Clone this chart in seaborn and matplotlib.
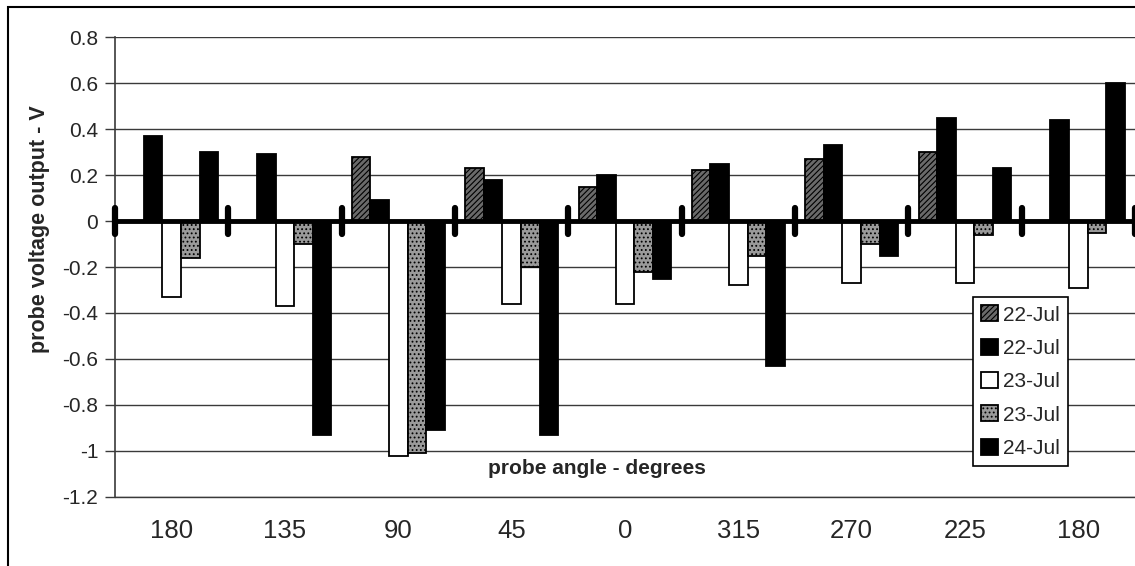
import numpy as np
import pandas as pd
import matplotlib
matplotlib.use("Agg")
import matplotlib.pyplot as plt
from matplotlib.patches import Patch, Rectangle
import seaborn as sns

# Probe angle categories (the sweep starts and ends at 180)
angles = ["180", "135", "90", "45", "0", "315", "270", "225", "180"]

# Probe output in volts for each run
jul22_a = [np.nan, np.nan, 0.28, 0.23, 0.15, 0.22, 0.27, 0.30, np.nan]
jul22_b = [0.37, 0.29, 0.09, 0.18, 0.20, 0.25, 0.33, 0.45, 0.44]
jul23_a = [-0.33, -0.37, -1.02, -0.36, -0.36, -0.28, -0.27, -0.27, -0.29]
jul23_b = [-0.16, -0.10, -1.01, -0.20, -0.22, -0.15, -0.10, -0.06, -0.05]
jul24 = [0.30, -0.93, -0.91, -0.93, -0.25, -0.63, -0.15, 0.23, 0.60]

series_labels = ["22-Jul", "22-Jul", "23-Jul", "23-Jul", "24-Jul"]
series_values = [jul22_a, jul22_b, jul23_a, jul23_b, jul24]
face_colors = ["#6a6a6a", "#000000", "#ffffff", "#9a9a9a", "#000000"]
hatches = ["//////", None, None, "....", None]

# long-form table; categories keyed by position because "180" repeats
rows = []
for s, vals in enumerate(series_values):
    for i, v in enumerate(vals):
        rows.append({"pos": i, "run": s, "volts": v})
df = pd.DataFrame(rows)

sns.set_theme(style="white")
plt.rcParams["font.family"] = ["Liberation Sans", "DejaVu Sans"]
plt.rcParams["hatch.color"] = "#2a2a2a"
plt.rcParams["hatch.linewidth"] = 0.8

fig = plt.figure(figsize=(11.35, 5.66), dpi=100)
W, H = 1135, 566
ax = fig.add_axes([115 / W, (H - 497) / H, 1020 / W, 460 / H])

sns.barplot(
    data=df, x="pos", y="volts", hue="run",
    order=list(range(len(angles))), hue_order=list(range(len(series_values))),
    palette=dict(enumerate(face_colors)), width=0.82, errorbar=None,
    edgecolor="black", linewidth=1.3, saturation=1, dodge=True,
    legend=False, ax=ax, zorder=3,
)
for cont, h in zip(ax.containers, hatches):
    for bar in cont:
        if h:
            bar.set_hatch(h)

ax.set_xlim(-0.5, len(angles) - 0.5)
ax.set_ylim(-1.2, 0.8)
yt = np.arange(-1.2, 0.81, 0.2)
ax.set_yticks(yt)
ax.set_yticklabels([f"{t:g}" if abs(t) > 1e-9 else "0" for t in yt])
ax.yaxis.grid(True, color="#3a3a3a", linewidth=1.0)
ax.set_axisbelow(True)

ax.set_xticks(range(len(angles)))
ax.set_xticklabels(angles)
ax.tick_params(axis="x", length=0, pad=16, labelsize=18.5)
ax.tick_params(axis="y", left=True, length=7, width=1, color="#3a3a3a", pad=5, labelsize=15)

for side in ["top", "right"]:
    ax.spines[side].set_visible(False)
ax.spines["left"].set_color("#3a3a3a")
ax.spines["left"].set_linewidth(1.2)
ax.spines["bottom"].set_color("#3a3a3a")
ax.spines["bottom"].set_linewidth(1.0)

# category axis at zero with boundary marks between groups
ax.axhline(0, color="black", linewidth=3.5, zorder=4)
bounds = np.arange(-0.5, len(angles), 1.0)
ax.vlines(bounds, -0.055, 0.055, color="black", linewidth=4.5,
          capstyle="round", zorder=5, clip_on=False)

ax.set_xlabel("")
ax.set_ylabel("")
ax.text(0.4725, 0.061, "probe angle - degrees", transform=ax.transAxes,
        ha="center", va="center", fontsize=15, fontweight="bold", zorder=6)
fig.text(40 / W, 1 - 229 / H, "probe voltage output - V", rotation=90,
         ha="center", va="center", fontsize=15.5, fontweight="bold")

handles = [Patch(facecolor=c, edgecolor="black", hatch=h, linewidth=1.3)
           for c, h in zip(face_colors, hatches)]
leg = ax.legend(handles, series_labels, loc="upper left",
                bbox_to_anchor=((973 - 115) / 1020, (497 - 297) / 460),
                fontsize=15, frameon=True, fancybox=False, framealpha=1,
                edgecolor="black", handlelength=0.8, handleheight=0.8,
                handletextpad=0.25, labelspacing=0.68, borderpad=0.4,
                borderaxespad=0)
leg.get_frame().set_linewidth(1.2)
leg.set_zorder(10)

# chart-area frame
fig.patches.append(Rectangle((8 / W, -0.1), 1.2, 1.1 - 7 / H,
                             transform=fig.transFigure, fill=False,
                             edgecolor="black", linewidth=1.5))

fig.savefig("out.png", dpi=100)
